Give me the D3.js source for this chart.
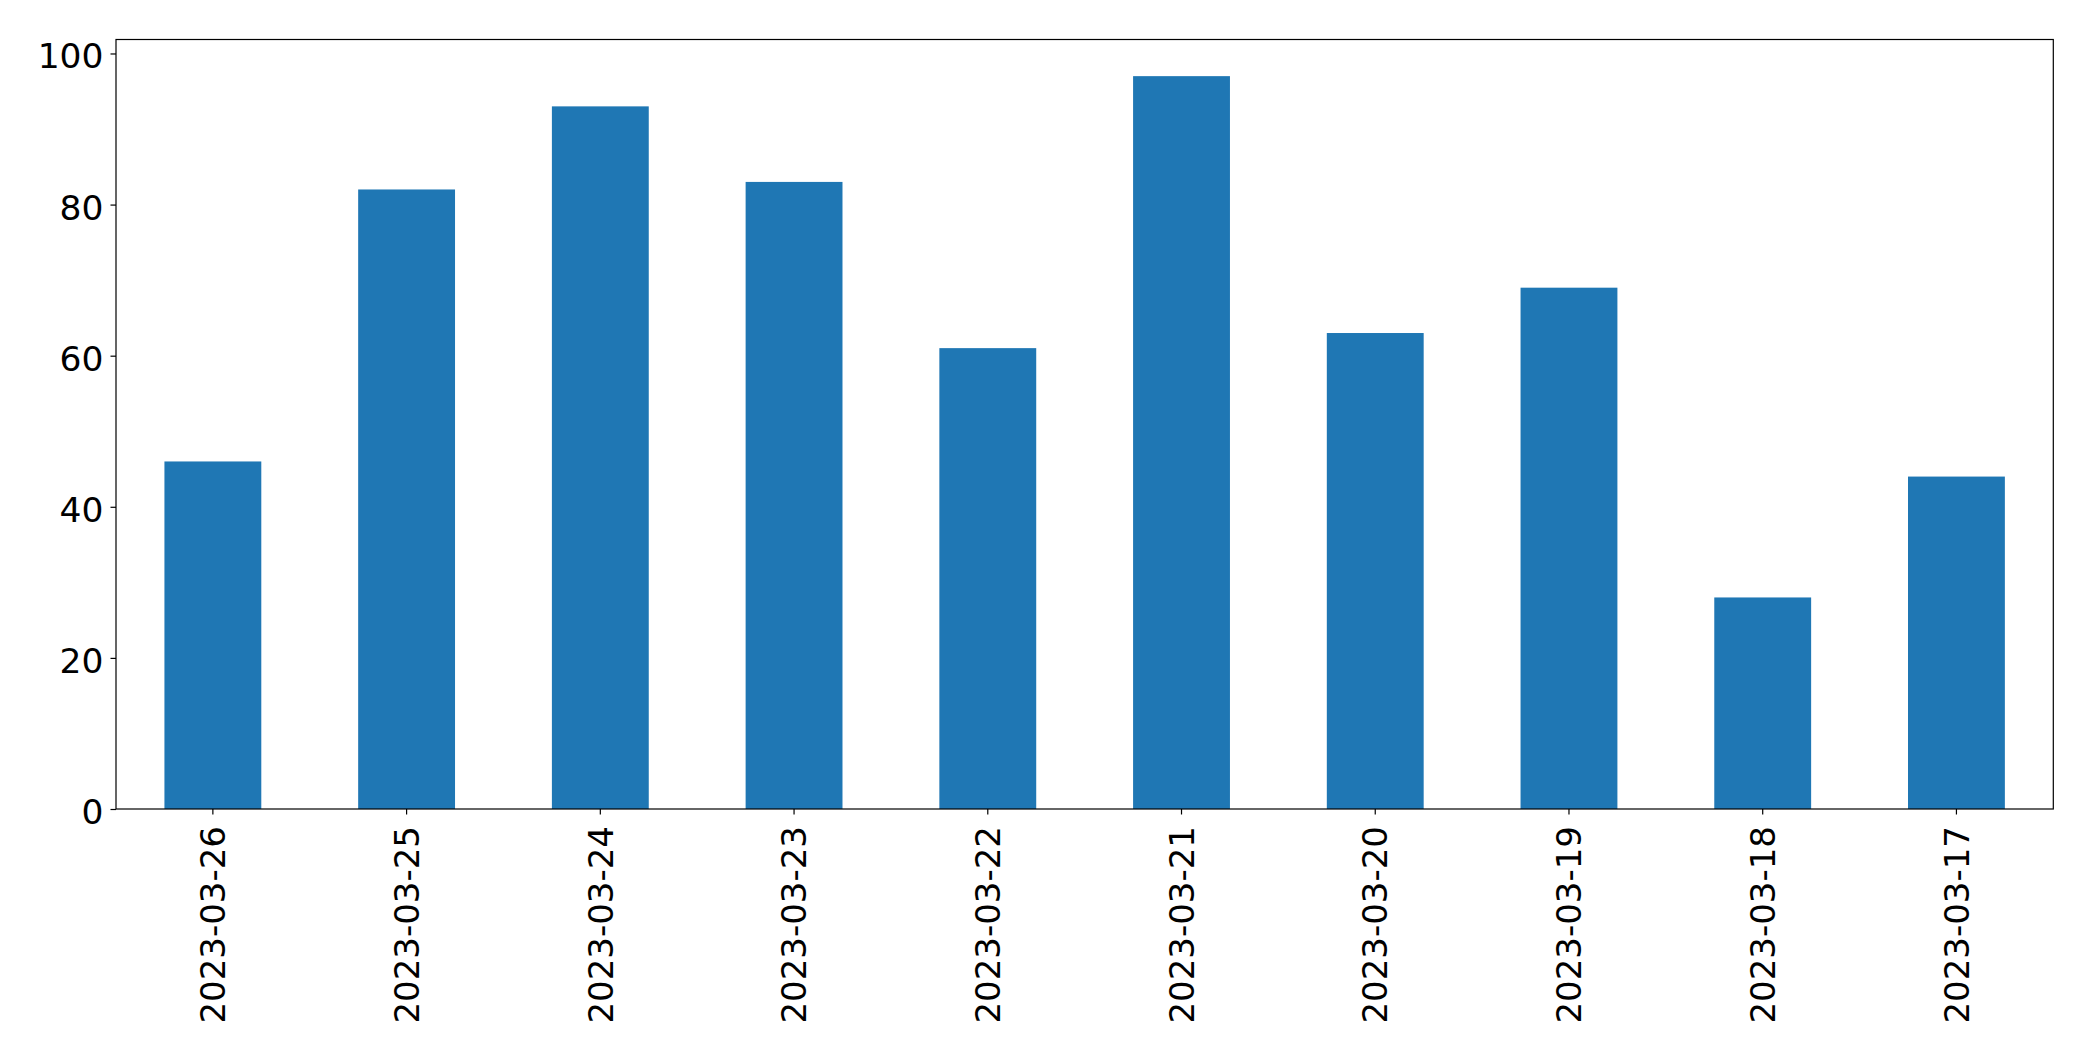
<!DOCTYPE html>
<html>
<head>
<meta charset="utf-8">
<script src="https://cdn.jsdelivr.net/npm/d3@7"></script>
<style>
html,body{margin:0;padding:0;background:#fff;}
svg{display:block;}
text{font-family:"DejaVu Sans",sans-serif;fill:#000;}
</style>
</head>
<body>
<svg id="chart" width="2093" height="1061"></svg>
<script>
const categories = ["2023-03-26","2023-03-25","2023-03-24","2023-03-23","2023-03-22","2023-03-21","2023-03-20","2023-03-19","2023-03-18","2023-03-17"];
const values = [46, 82, 93, 83, 61, 97, 63, 69, 28, 44];
const yTicks = [0, 20, 40, 60, 80, 100];

const W = 2093, H = 1061;
const margin = {left: 116, top: 39.5, right: W - 2053.3, bottom: H - 809};
const svg = d3.select("#chart");
const iw = W - margin.left - margin.right;
const ih = H - margin.top - margin.bottom;
const g = svg.append("g").attr("transform", `translate(${margin.left},${margin.top})`);

const x = d3.scaleBand().domain(categories).range([0, iw]).paddingInner(0.5).paddingOuter(0.25);
const y = d3.scaleLinear().domain([0, d3.max(values) * 1.05]).range([ih, 0]);

g.selectAll("rect.bar").data(values).join("rect")
  .attr("class", "bar")
  .attr("x", (d, i) => x(categories[i]))
  .attr("width", x.bandwidth())
  .attr("y", d => y(d))
  .attr("height", d => ih - y(d))
  .attr("fill", "#1f77b4");

const fs = 34.5;
const yAxis = g.append("g").call(d3.axisLeft(y).tickValues(yTicks).tickSize(5.5).tickPadding(7).tickFormat(d3.format("d")));
yAxis.select(".domain").remove();
yAxis.selectAll("line").attr("stroke", "#000").attr("stroke-width", 1.2);
yAxis.selectAll("text").attr("font-size", fs).attr("dy", "0.42em").attr("font-family", "DejaVu Sans").attr("fill", "#000");

const xAxis = g.append("g").attr("transform", `translate(0,${ih})`)
  .call(d3.axisBottom(x).tickSize(5.5).tickPadding(0));
xAxis.select(".domain").remove();
xAxis.selectAll("line").attr("stroke", "#000").attr("stroke-width", 1.2);
xAxis.selectAll("text")
  .attr("font-size", 34)
  .attr("font-family", "DejaVu Sans")
  .attr("fill", "#000")
  .attr("text-anchor", "end")
  .attr("transform", "translate(0,17) rotate(-90)")
  .attr("x", 0).attr("y", 0)
  .attr("dy", "0.36em");

g.append("rect").attr("x", 0).attr("y", 0).attr("width", iw).attr("height", ih)
  .attr("fill", "none").attr("stroke", "#000").attr("stroke-width", 1.2);
</script>
</body>
</html>
